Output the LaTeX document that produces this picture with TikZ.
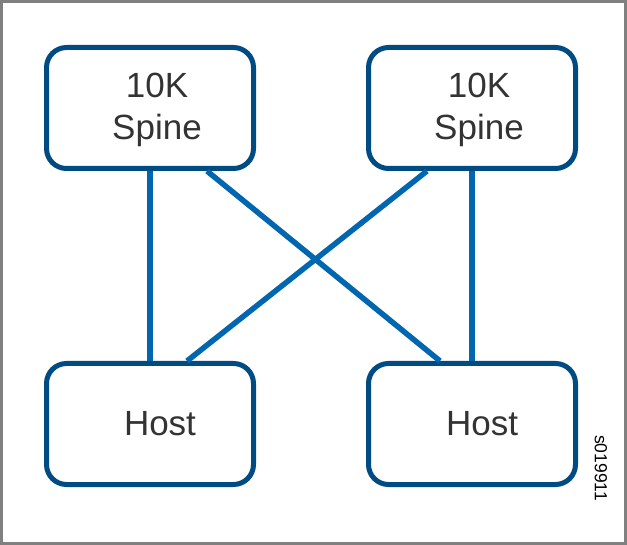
\documentclass[tikz,border=0pt]{standalone}
\usepackage{fontspec}
\setmainfont{Liberation Sans}
\usepackage{tikz}
\usetikzlibrary{positioning}
\definecolor{boxblue}{HTML}{004B82}
\definecolor{linkblue}{HTML}{0066B0}
\definecolor{textgray}{HTML}{333333}
\tikzset{%
	box/.style   = {draw=boxblue, line width=5pt, rectangle, rounded corners=20pt, minimum width=207pt, minimum height=121pt, inner sep=0pt},
	spine/.style = {box, label={[xshift=7pt, yshift=-2pt, align=center, text=textgray, font=\fontsize{35}{42}\selectfont]center:10K\\Spine}},
	host/.style  = {box, label={[xshift=10pt, text=textgray, font=\fontsize{35}{40}\selectfont]center:Host}},
	link/.style  = {draw=linkblue, line width=5.5pt},
}
\begin{document}
\begin{tikzpicture}[x=1pt,y=-1pt,node distance=322pt]
	\useasboundingbox (0,0) rectangle (627,545);
	\draw[gray, line width=3pt] (1.5,1.5) rectangle (625.5,543.5);
	
	\node [spine] (sl) at (150,108) {};
	\node [spine] (sr) [right of=sl] {};
	\node [host] (hl) [below of=sl,node distance=316pt] {};
	\node [host] (hr) [right of=hl] {};
	\node [rotate=-90,font=\fontsize{17.5}{20}\selectfont] (id) at (601,468) {s019911};
	
	\draw[link] (sl) -- (hl);
	\draw[link] (sr) -- (hr);
	\draw[link] ([xshift=57pt]sl.south) -- ([xshift=-32pt]hr.north);
	\draw[link] ([xshift=-45pt]sr.south) -- ([xshift=37pt]hl.north);
	
\end{tikzpicture}
\end{document}
